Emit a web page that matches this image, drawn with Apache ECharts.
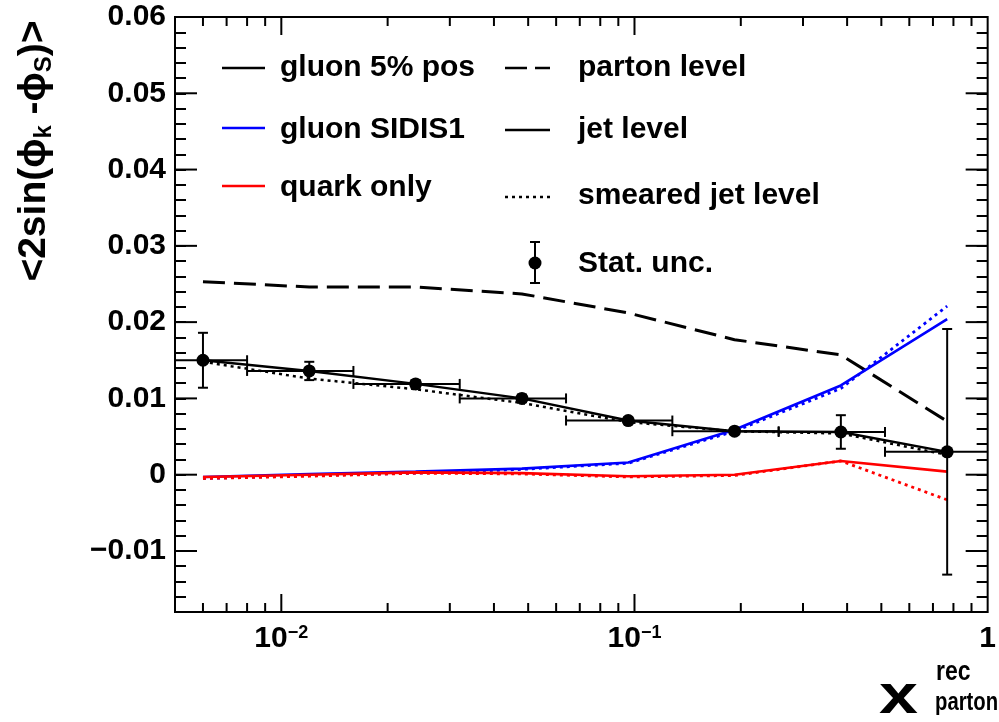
<!DOCTYPE html>
<html>
<head>
<meta charset="utf-8">
<script src="https://cdn.jsdelivr.net/npm/echarts@6/dist/echarts.min.js"></script>
<style>
html, body { margin: 0; padding: 0; background: #fff; }
#chart { width: 999px; height: 722px; }
</style>
</head>
<body>
<div id="chart"></div>
<script>
// axis ranges
const X_MIN = 0.005
const X_MAX = 1
const Y_MIN = -0.018
const Y_MAX = 0.06

// bins in x (log spaced, each twice the previous)
const xCenter = [0.006, 0.012, 0.024, 0.048, 0.096, 0.192, 0.384, 0.768]
const xLow = [0.004, 0.008, 0.016, 0.032, 0.064, 0.128, 0.256, 0.512]
const xHigh = [0.008, 0.016, 0.032, 0.064, 0.128, 0.256, 0.512, 1.024]

// gluon 5% pos
const gluonParton = [0.0253, 0.0246, 0.0246, 0.0237, 0.0212, 0.0177, 0.0157, 0.0070]
const gluonJet = [0.0150, 0.0136, 0.0119, 0.0100, 0.0071, 0.0057, 0.0056, 0.0030]
const gluonSmeared = [0.0148, 0.0126, 0.0112, 0.0094, 0.0069, 0.0057, 0.0054, 0.0026]
const statErr = [0.0036, 0.0012, 0.0005, 0.0005, 0.0004, 0.0004, 0.0022, 0.0161]

// gluon SIDIS1
const sidisJet = [-0.0003, 0.0001, 0.0004, 0.0008, 0.0016, 0.0059, 0.0117, 0.0204]
const sidisSmeared = [-0.0005, -0.0001, 0.0002, 0.0007, 0.0015, 0.0057, 0.0113, 0.0221]

// quark only
const quarkJet = [-0.0003, 0.0000, 0.0003, 0.0002, -0.0002, 0.0000, 0.0018, 0.0004]
const quarkSmeared = [-0.0005, -0.0002, 0.0002, 0.0001, -0.0003, -0.0001, 0.0018, -0.0033]

// ticks and labels
const yMajorTicks = [-0.01, 0, 0.01, 0.02, 0.03, 0.04, 0.05, 0.06]
const yTickLabels = ['\u22120.01', '0', '0.01', '0.02', '0.03', '0.04', '0.05', '0.06']
const xMajorTicks = [0.01, 0.1, 1]
const xTickLabels = ['10{s|\u22122}', '10{s|\u22121}', '1']
const xMinorTicks = [0.006, 0.007, 0.008, 0.009,
  0.02, 0.03, 0.04, 0.05, 0.06, 0.07, 0.08, 0.09,
  0.2, 0.3, 0.4, 0.5, 0.6, 0.7, 0.8, 0.9]

const FONT = 'Liberation Sans'
const BLACK = '#000'
const BLUE = '#0000ff'
const RED = '#ff0000'
const DASH = [22, 9]
const DOT = [3, 4]

const pairs = (ys) => xCenter.map((x, i) => [x, ys[i]])

const lineSeries = (name, ys, color, type, width) => ({
  name,
  type: 'line',
  data: pairs(ys),
  symbol: 'none',
  silent: true,
  z: 3,
  lineStyle: { color, width, type }
})

// tick marks: 'x' ticks at bottom and top, 'y' ticks at left and right, all pointing inward
const tickSeries = (values, axis, len) => ({
  type: 'custom',
  silent: true,
  clip: false,
  z: 5,
  data: values.map(v => [v]),
  renderItem: (params, api) => {
    const v = api.value(0)
    const st = { stroke: BLACK, lineWidth: 2 }
    if (axis === 'x') {
      const b = api.coord([v, Y_MIN])
      const t = api.coord([v, Y_MAX])
      return {
        type: 'group',
        children: [
          { type: 'line', shape: { x1: b[0], y1: b[1], x2: b[0], y2: b[1] - len }, style: st },
          { type: 'line', shape: { x1: t[0], y1: t[1], x2: t[0], y2: t[1] + len }, style: st }
        ]
      }
    }
    const l = api.coord([X_MIN, v])
    const r = api.coord([X_MAX, v])
    return {
      type: 'group',
      children: [
        { type: 'line', shape: { x1: l[0], y1: l[1], x2: l[0] + len, y2: l[1] }, style: st },
        { type: 'line', shape: { x1: r[0], y1: r[1], x2: r[0] - len, y2: r[1] }, style: st }
      ]
    }
  }
})

const errData = xCenter.map((x, i) => [x, gluonJet[i], xLow[i], xHigh[i], statErr[i]])

const errSeries = {
  name: 'Stat. unc.',
  type: 'custom',
  silent: true,
  clip: true,
  z: 6,
  data: errData,
  renderItem: (params, api) => {
    const x = api.value(0), y = api.value(1)
    const xl = api.value(2), xh = api.value(3), e = api.value(4)
    const c = api.coord([x, y])
    const l = api.coord([xl, y])
    const r = api.coord([xh, y])
    const t = api.coord([x, y + e])
    const b = api.coord([x, y - e])
    const cap = 5
    const st = { stroke: BLACK, lineWidth: 2 }
    return {
      type: 'group',
      children: [
        { type: 'line', shape: { x1: l[0], y1: c[1], x2: r[0], y2: c[1] }, style: st },
        { type: 'line', shape: { x1: l[0], y1: c[1] - cap, x2: l[0], y2: c[1] + cap }, style: st },
        { type: 'line', shape: { x1: r[0], y1: c[1] - cap, x2: r[0], y2: c[1] + cap }, style: st },
        { type: 'line', shape: { x1: c[0], y1: t[1], x2: c[0], y2: b[1] }, style: st },
        { type: 'line', shape: { x1: c[0] - cap, y1: t[1], x2: c[0] + cap, y2: t[1] }, style: st },
        { type: 'line', shape: { x1: c[0] - cap, y1: b[1], x2: c[0] + cap, y2: b[1] }, style: st },
        { type: 'circle', shape: { cx: c[0], cy: c[1], r: 6.5 }, style: { fill: BLACK } }
      ]
    }
  }
}

const txt = (x, y, text, size, scaleX) => ({
  type: 'text',
  x, y,
  scaleX: scaleX || 1,
  style: {
    text,
    fontFamily: FONT,
    fontWeight: 'bold',
    fontSize: size,
    fill: BLACK,
    verticalAlign: 'middle'
  }
})

const legLine = (x1, x2, y, color, dash) => ({
  type: 'line',
  shape: { x1, y1: y, x2, y2: y },
  style: { stroke: color, lineWidth: 2.5, lineDash: dash || null }
})

const chart = echarts.init(document.getElementById('chart'))

chart.setOption({
  animation: false,
  backgroundColor: '#fff',
  grid: { left: 175, top: 17, right: 10, bottom: 110, show: true, borderColor: BLACK, borderWidth: 2, backgroundColor: 'transparent' },
  xAxis: {
    type: 'log',
    logBase: 10,
    min: X_MIN,
    max: X_MAX,
    axisLine: { show: false },
    axisTick: { show: false },
    splitLine: { show: false },
    axisLabel: {
      margin: 12,
      fontFamily: FONT,
      fontWeight: 'bold',
      fontSize: 30,
      color: BLACK,
      showMinLabel: true,
      showMaxLabel: true,
      formatter: (v) => {
        const i = xMajorTicks.findIndex(t => Math.abs(Math.log10(v) - Math.log10(t)) < 1e-6)
        return i < 0 ? '' : xTickLabels[i]
      },
      rich: {
        s: { fontFamily: FONT, fontWeight: 'bold', fontSize: 18, verticalAlign: 'top', lineHeight: 18 }
      }
    }
  },
  yAxis: [
    {
      type: 'value',
      min: Y_MIN,
      max: Y_MAX,
      interval: 0.002,
      axisLine: { show: false },
      splitLine: { show: false },
      axisTick: { show: true, inside: true, length: 11, lineStyle: { color: BLACK, width: 2 } },
      axisLabel: {
        margin: 9,
        fontFamily: FONT,
        fontWeight: 'bold',
        fontSize: 30,
        color: BLACK,
        showMinLabel: false,
        formatter: (v) => {
          const i = yMajorTicks.findIndex(t => Math.abs(t - v) < 1e-9)
          return i < 0 ? '' : yTickLabels[i]
        }
      }
    },
    {
      type: 'value',
      position: 'right',
      min: Y_MIN,
      max: Y_MAX,
      interval: 0.002,
      axisLine: { show: false },
      splitLine: { show: false },
      axisLabel: { show: false },
      axisTick: { show: true, inside: true, length: 11, lineStyle: { color: BLACK, width: 2 } }
    }
  ],
  series: [
    lineSeries('gluon parton', gluonParton, BLACK, DASH, 3),
    lineSeries('gluon jet', gluonJet, BLACK, 'solid', 2.4),
    lineSeries('gluon smeared', gluonSmeared, BLACK, DOT, 2.5),
    lineSeries('SIDIS1 jet', sidisJet, BLUE, 'solid', 2.6),
    lineSeries('SIDIS1 smeared', sidisSmeared, BLUE, DOT, 2.8),
    lineSeries('quark jet', quarkJet, RED, 'solid', 2.6),
    lineSeries('quark smeared', quarkSmeared, RED, DOT, 2.8),
    errSeries,
    tickSeries(yMajorTicks, 'y', 22),
    tickSeries(xMajorTicks.slice(0, 2), 'x', 18),
    tickSeries(xMinorTicks, 'x', 9)
  ],
  graphic: [
    // left legend column
    legLine(222, 265, 68, BLACK),
    txt(280, 68, 'gluon 5% pos', 30),
    legLine(222, 265, 128, BLUE),
    txt(280, 130, 'gluon SIDIS1', 30),
    legLine(222, 265, 186, RED),
    txt(280, 188, 'quark only', 30),
    // right legend column
    legLine(505, 550, 68, BLACK, [22, 8]),
    txt(578, 68, 'parton level', 30),
    legLine(505, 550, 130, BLACK),
    txt(578, 130, 'jet level', 30),
    legLine(505, 550, 197, BLACK, [3, 4]),
    txt(578, 196, 'smeared jet level', 30),
    { type: 'line', shape: { x1: 535, y1: 242, x2: 535, y2: 283 }, style: { stroke: BLACK, lineWidth: 2 } },
    { type: 'line', shape: { x1: 530, y1: 242, x2: 540, y2: 242 }, style: { stroke: BLACK, lineWidth: 2 } },
    { type: 'line', shape: { x1: 530, y1: 283, x2: 540, y2: 283 }, style: { stroke: BLACK, lineWidth: 2 } },
    { type: 'circle', shape: { cx: 535, cy: 263, r: 6.5 }, style: { fill: BLACK } },
    txt(578, 264, 'Stat. unc.', 30),
    // y axis title
    {
      type: 'text',
      x: 34,
      y: 151,
      rotation: Math.PI / 2,
      style: {
        text: '{b|<2sin(\u03d5}{s|k}{b| -\u03d5}{s|S}{b|)>}',
        align: 'center',
        verticalAlign: 'middle',
        fill: BLACK,
        rich: {
          b: { fontFamily: FONT, fontWeight: 'bold', fontSize: 39, lineHeight: 44 },
          s: { fontFamily: FONT, fontWeight: 'bold', fontSize: 24, lineHeight: 24, verticalAlign: 'bottom' }
        }
      }
    },
    // x axis title
    txt(879, 698, 'x', 56, 1.25),
    txt(936, 673, 'rec', 27, 0.85),
    txt(935, 703, 'parton', 26, 0.78)
  ]
})
</script>
</body>
</html>
